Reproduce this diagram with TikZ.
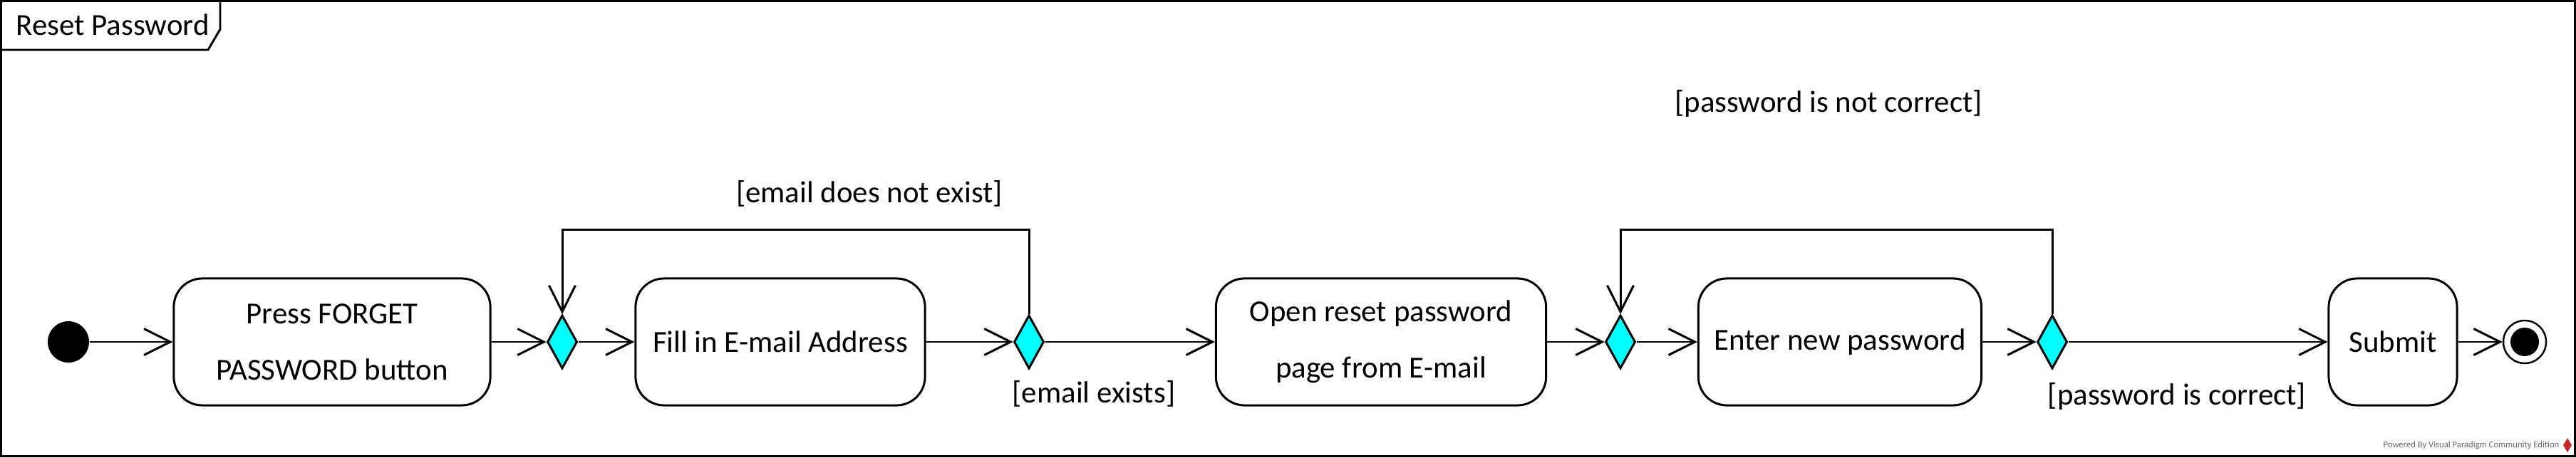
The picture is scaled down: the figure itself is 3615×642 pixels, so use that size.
\documentclass[tikz,border=0pt]{standalone}
\usepackage{fontspec}
\setmainfont{Carlito}
\usetikzlibrary{arrows.meta,shapes.geometric}
\definecolor{decfill}{RGB}{0,255,255}
\definecolor{vpred}{RGB}{200,40,40}

\begin{document}
\begin{tikzpicture}[x=0.01cm,y=0.01cm,
        every node/.style={font=\fontsize{12.2}{14.6}\selectfont},
        action/.style={draw,line width=0.85pt,rounded corners=0.4cm,align=center,inner sep=0pt,minimum height=1.78cm},
        decision/.style={diamond,draw,line width=0.85pt,fill=decfill,inner sep=0pt,minimum width=0.42cm,minimum height=0.75cm},
        flow/.style={line width=0.85pt,-{Straight Barb[length=3.7mm,width=3.7mm,line width=0.85pt]}},
        guard/.style={inner sep=0pt}]
    \useasboundingbox (0,0) rectangle (3615,642);
    % frame
    \draw[line width=0.85pt] (1.5,1.5) rectangle (3613.5,640.5);
    \draw[line width=0.85pt] (309,640.5)--(309,601)--(292,572)--(1.5,572);
    \node[anchor=west,inner sep=0pt] (title) at (22,607) {Reset Password};

    % nodes
    \node[circle,fill=black,minimum size=0.58cm,inner sep=0pt] (start) at (96,162) {};
    \node[action,minimum width=4.44cm] (press) at (466,162) {Press FORGET\\[8pt]PASSWORD button};
    \node[decision] (merge1) at (789,162) {};
    \node[action,minimum width=4.06cm] (fill) at (1095,162) {Fill in E-mail Address};
    \node[decision] (mailcheck) at (1444,162) {};
    \node[action,minimum width=4.63cm] (open) at (1938,162) {Open reset password\\[8pt]page from E-mail};
    \node[decision] (merge2) at (2274,162) {};
    \node[action,minimum width=3.97cm] (enter) at (2582,162) {Enter new password};
    \node[decision] (pwcheck) at (2880,162) {};
    \node[action,minimum width=1.80cm] (submit) at (3358,162) {Submit};
    \node[circle,draw,line width=0.7pt,fill=white,minimum size=0.6cm,inner sep=0pt] (finish) at (3543,162) {};
    \node[circle,fill=black,minimum size=0.4cm,inner sep=0pt] (finishdot) at (finish) {};

    % flows
    \draw[flow] (start) -- (press);
    \draw[flow] (press) -- (merge1);
    \draw[flow] (merge1) -- (fill);
    \draw[flow] (fill) -- (mailcheck);
    \draw[flow] (mailcheck) -- (open);
    \draw[flow] (mailcheck.north) -- ++(0,118) -| (merge1.north);
    \draw[flow] (open) -- (merge2);
    \draw[flow] (merge2) -- (enter);
    \draw[flow] (enter) -- (pwcheck);
    \draw[flow] (pwcheck) -- (submit);
    \draw[flow] (pwcheck.north) -- ++(0,118) -| (merge2.north);
    \draw[flow] (submit) -- (finish);

    % guards
    \node[guard] (noexist) at (1220,370) {[email does not exist]};
    \node[guard] (exists) at (1535,89) {[email exists]};
    \node[guard] (notcorrect) at (2566,497) {[password is not correct]};
    \node[guard] (correct) at (3055,86) {[password is correct]};

    % watermark
    \node[anchor=east,inner sep=0pt,text=black!60,font=\fontsize{3.6}{4}\selectfont] (powered) at (3592,17) {Powered By Visual Paradigm Community Edition};
    \fill[vpred] (3603,27)--(3609,17)--(3603,7)--(3597,17)--cycle;
\end{tikzpicture}
\end{document}
